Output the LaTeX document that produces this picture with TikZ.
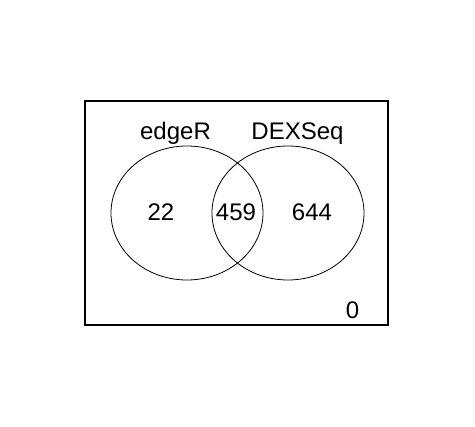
\documentclass[tikz,border=0pt]{standalone}
\usepackage{fontspec}
\setmainfont{Liberation Sans}
\usetikzlibrary{shapes.geometric}

\begin{document}
\begin{tikzpicture}[x=1pt,y=-1pt, set/.style={ellipse,draw,line width=0.8pt,minimum width=152pt,minimum height=134pt,inner sep=0pt}, count/.style={font=\fontsize{24}{28}\selectfont,inner sep=0pt}]
  \useasboundingbox (0,0) rectangle (475,427);
  \node[draw,line width=1.1pt,minimum width=303pt,minimum height=224pt,inner sep=0pt] (universe) at (236.5,213) {};

  \node[set] (edger)  at (187,213) {};
  \node[set] (dexseq) at (288,213) {};

  \node[count,anchor=base] (edger_name)  at (175.5,140) {edgeR};
  \node[count,anchor=base] (dexseq_name) at (297.5,140) {DEXSeq};

  \node[count] (only_edger)  at (161,212) {22};
  \node[count] (both)        at (236,212) {459};
  \node[count] (only_dexseq) at (312,212) {644};
  \node[count] (neither)     at (352.5,310) {0};
\end{tikzpicture}
\end{document}
